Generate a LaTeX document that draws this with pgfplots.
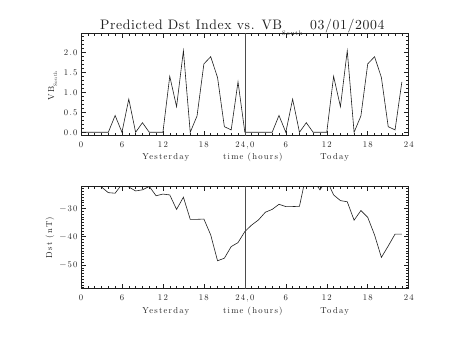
\documentclass[border=0pt]{standalone}
\usepackage{fontspec}
\usepackage{pgfplots}
\usepackage{pgfplotstable}
\pgfplotsset{compat=1.18}
\newfontfamily\idl{lmroman10-regular.otf}[LetterSpace=14]
\newfontfamily\idlt{lmroman10-regular.otf}[LetterSpace=4.5]
\definecolor{ink}{gray}{0.12}

\pgfplotstableread{
h vb dst
0 0 -20
1 0 -20
2 0 -21
3 0 -22.5
4 0 -24.5
5 0.42 -24.7
6 0 -21.5
7 0.83 -22.5
8 0 -23.9
9 0.24 -23.5
10 0 -22.3
11 0 -25.6
12 0 -25.0
13 1.40 -25.3
14 0.64 -30.4
15 2.04 -26.1
16 0 -33.9
17 0.41 -33.9
18 1.71 -33.8
19 1.89 -39.4
20 1.37 -48.5
21 0.14 -47.6
22 0.06 -43.5
23 1.26 -42.1
24 0 -38.2
25 0 -35.9
26 0 -34.1
27 0 -31.4
28 0 -30.4
29 0.42 -28.6
30 0 -29.4
31 0.83 -29.4
32 0 -29.3
33 0.24 -18
34 0 -20
35 0 -23.5
36 0 -20
37 1.40 -25.3
38 0.64 -27.3
39 2.04 -27.7
40 0 -34.2
41 0.41 -30.8
42 1.71 -33.2
43 1.89 -39.4
44 1.37 -47.3
45 0.14 -43.3
46 0.06 -39.1
47 1.26 -39.1
}\data

\pgfplotsset{
  idlaxis/.style={
    scale only axis, width=327.7bp, anchor=south west,
    xmin=0, xmax=48, xtick={0,6,...,48},
    xticklabels={0,6,12,18,{24,0},6,12,18,24},
    minor xtick={1,2,...,47},
    axis line style={ink, line width=0.5bp},
    tick style={ink, line width=0.5bp},
    major tick length=4.5bp, minor tick length=2.5bp,
    tick align=inside, xtick pos=both, ytick pos=both,
    ticklabel style={font=\idl\fontsize{8.7}{10}\selectfont, text=ink},
    /pgf/number format/assume math mode=true,
    xticklabel style={anchor=base, yshift=-12bp},
    cycle list={{ink, line width=0.6bp, mark=none}},
  }
}

\begin{document}
\begin{tikzpicture}
\useasboundingbox (0,0) rectangle (453bp,340bp);
\begin{axis}[idlaxis, at={(81bp,204.3bp)}, height=102.4bp,
  ymin=-0.085, ymax=2.475, ytick={0,0.5,1,1.5,2},
  yticklabels={0.0,0.5,1.0,1.5,2.0},
  minor ytick={0.1,0.2,0.3,0.4,0.6,0.7,0.8,0.9,1.1,1.2,1.3,1.4,1.6,1.7,1.8,1.9,2.1,2.2,2.3,2.4}]
\addplot[ink, line width=0.6bp, mark=none] table[x=h, y=vb] {\data};
\addplot[ink!80, line width=0.45bp, mark=none] coordinates {(24,-1) (24,3)};
\end{axis}
\begin{axis}[idlaxis, at={(81bp,51.7bp)}, height=101.6bp,
  ymin=-58.2, ymax=-22.4, ytick={-50,-40,-30},
  yticklabels={−50,−40,−30},
  minor ytick={-58,-57,...,-23}]
\addplot[ink, line width=0.6bp, mark=none] table[x=h, y=dst] {\data};
\addplot[ink!80, line width=0.45bp, mark=none] coordinates {(24,-70) (24,0)};
\end{axis}
% title
\node[anchor=base west, inner sep=0pt, text=ink, font=\idlt\fontsize{13.8}{15}\selectfont] at (100bp,310.7bp)
  {Predicted Dst Index vs. VB\raisebox{-0.42em}{\idl\fontsize{6.5}{7}\selectfont South}};
\node[anchor=base west, inner sep=0pt, text=ink, font=\idlt\fontsize{13.8}{15}\selectfont] at (310bp,310.7bp) {03/01/2004};
% panel labels
\begin{scope}[every node/.style={anchor=base, inner sep=0pt, text=ink, font=\idl\fontsize{8.7}{10}\selectfont}]
\node at (165.8bp,180bp) {Yesterday};
\node at (252.8bp,180bp) {time (hours)};
\node at (334.7bp,180bp) {Today};
\node at (165.8bp,26.7bp) {Yesterday};
\node at (252.8bp,26.7bp) {time (hours)};
\node at (334.7bp,26.7bp) {Today};
\node[rotate=90] at (54bp,254bp) {VB\raisebox{-0.35em}{\fontsize{5}{6}\selectfont South}};
\node[rotate=90] at (52bp,102.5bp) {Dst (nT)};
\end{scope}
\end{tikzpicture}
\end{document}
